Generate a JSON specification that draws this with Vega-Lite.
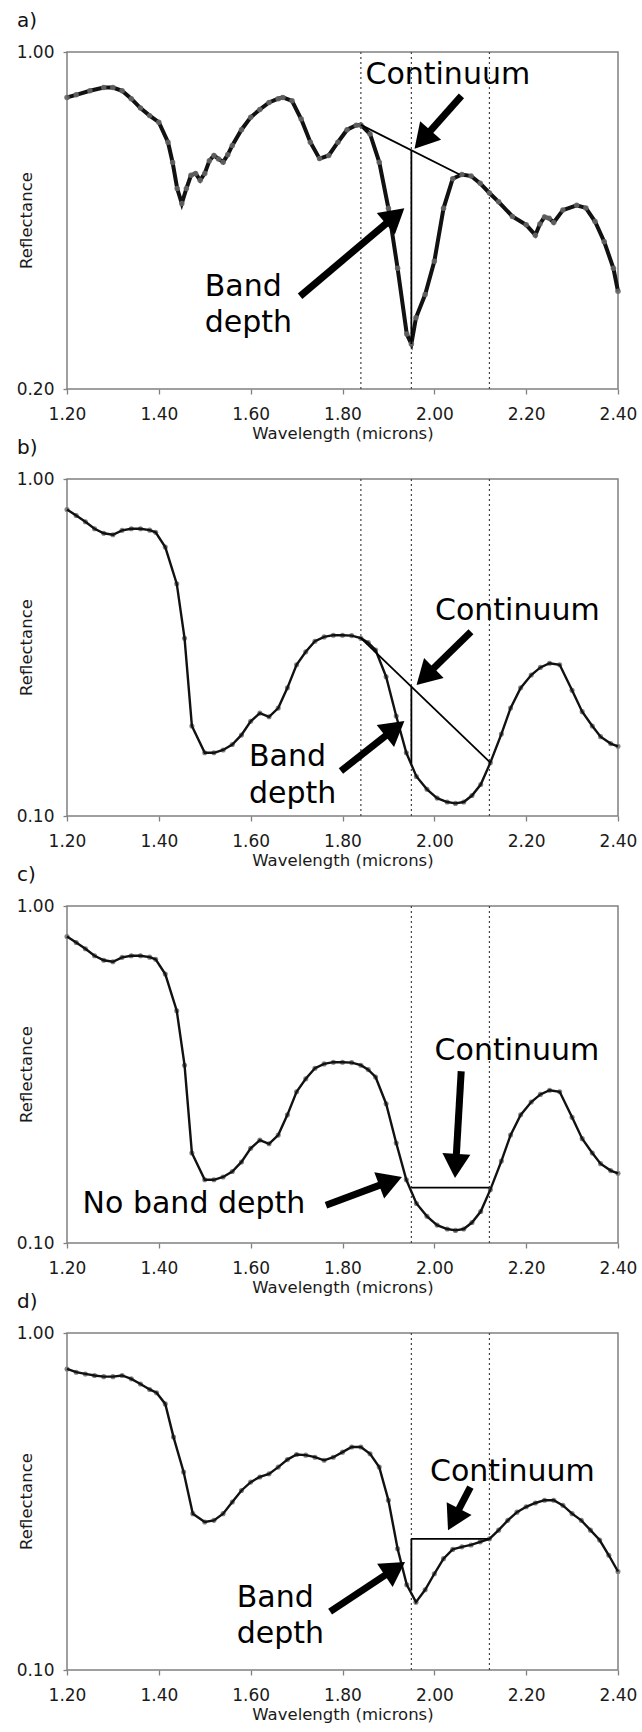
{
  "$schema": "https://vega.github.io/schema/vega-lite/v6.json",
  "padding": {"left": 15, "top": 10, "right": 5, "bottom": 5},
  "bounds": "flush",
  "spacing": 90,
  "config": {
    "font": "DejaVu Sans",
    "view": {"stroke": "#808080", "strokeWidth": 1.5},
    "axis": {"grid": false, "domain": false, "tickColor": "#808080", "tickWidth": 1.3, "labelFontSize": 17, "labelColor": "#1a1a1a", "titleFontSize": 16.5, "titleFontWeight": "normal", "titleColor": "#1a1a1a", "labelFlush": false, "labelOverlap": false},
    "axisX": {"tickSize": 5, "labelPadding": 12, "titleY": 44, "titleBaseline": "middle"},
    "axisY": {"tickSize": 4, "labelPadding": 9, "titleX": -41, "titleY": 168, "titleBaseline": "middle", "titleAngle": -90, "titleAlign": "center"},
    "title": {"anchor": "start", "frame": "group", "dx": -50, "offset": 12, "fontSize": 20, "fontWeight": "normal", "baseline": "middle", "color": "#111"}
  },
  "datasets": {
    "specA": [
      {"wl":1.20,"r":0.805},{"wl":1.22,"r":0.815},{"wl":1.25,"r":0.831},{"wl":1.28,"r":0.844},{"wl":1.30,"r":0.844},{"wl":1.32,"r":0.831},{"wl":1.34,"r":0.800},{"wl":1.36,"r":0.765},{"wl":1.38,"r":0.738},{"wl":1.40,"r":0.715},{"wl":1.42,"r":0.650},{"wl":1.43,"r":0.590},{"wl":1.44,"r":0.521},{"wl":1.45,"r":0.485},{"wl":1.46,"r":0.521},{"wl":1.47,"r":0.555},{"wl":1.48,"r":0.560},{"wl":1.49,"r":0.542},{"wl":1.50,"r":0.560},{"wl":1.51,"r":0.595},{"wl":1.52,"r":0.610},{"wl":1.53,"r":0.600},{"wl":1.54,"r":0.591},{"wl":1.55,"r":0.612},{"wl":1.56,"r":0.640},{"wl":1.58,"r":0.690},{"wl":1.60,"r":0.732},{"wl":1.62,"r":0.760},{"wl":1.64,"r":0.786},{"wl":1.66,"r":0.800},{"wl":1.67,"r":0.805},{"wl":1.69,"r":0.792},{"wl":1.71,"r":0.726},{"wl":1.73,"r":0.650},{"wl":1.75,"r":0.601},{"wl":1.77,"r":0.610},{"wl":1.79,"r":0.650},{"wl":1.81,"r":0.690},{"wl":1.83,"r":0.705},{"wl":1.84,"r":0.706},{"wl":1.86,"r":0.676},{"wl":1.88,"r":0.591},{"wl":1.90,"r":0.474},{"wl":1.92,"r":0.356},{"wl":1.94,"r":0.260},{"wl":1.95,"r":0.248},{"wl":1.96,"r":0.281},{"wl":1.98,"r":0.314},{"wl":2.00,"r":0.368},{"wl":2.02,"r":0.474},{"wl":2.04,"r":0.546},{"wl":2.06,"r":0.557},{"wl":2.08,"r":0.553},{"wl":2.10,"r":0.534},{"wl":2.12,"r":0.510},{"wl":2.14,"r":0.489},{"wl":2.17,"r":0.456},{"wl":2.20,"r":0.438},{"wl":2.22,"r":0.417},{"wl":2.23,"r":0.440},{"wl":2.24,"r":0.455},{"wl":2.25,"r":0.452},{"wl":2.26,"r":0.443},{"wl":2.28,"r":0.470},{"wl":2.31,"r":0.481},{"wl":2.33,"r":0.475},{"wl":2.35,"r":0.445},{"wl":2.37,"r":0.404},{"wl":2.39,"r":0.356},{"wl":2.40,"r":0.319}
    ],
    "specB": [
      {"wl":1.200,"r":0.812},{"wl":1.220,"r":0.779},{"wl":1.240,"r":0.747},{"wl":1.260,"r":0.712},{"wl":1.280,"r":0.690},{"wl":1.300,"r":0.683},{"wl":1.320,"r":0.704},{"wl":1.340,"r":0.712},{"wl":1.360,"r":0.712},{"wl":1.380,"r":0.705},{"wl":1.393,"r":0.695},{"wl":1.414,"r":0.628},{"wl":1.439,"r":0.489},{"wl":1.456,"r":0.337},{"wl":1.472,"r":0.185},{"wl":1.500,"r":0.154},{"wl":1.520,"r":0.154},{"wl":1.540,"r":0.157},{"wl":1.560,"r":0.163},{"wl":1.580,"r":0.174},{"wl":1.600,"r":0.191},{"wl":1.620,"r":0.202},{"wl":1.640,"r":0.197},{"wl":1.660,"r":0.209},{"wl":1.680,"r":0.240},{"wl":1.700,"r":0.281},{"wl":1.720,"r":0.307},{"wl":1.740,"r":0.330},{"wl":1.760,"r":0.340},{"wl":1.780,"r":0.344},{"wl":1.800,"r":0.344},{"wl":1.820,"r":0.343},{"wl":1.840,"r":0.337},{"wl":1.856,"r":0.327},{"wl":1.872,"r":0.311},{"wl":1.895,"r":0.259},{"wl":1.917,"r":0.198},{"wl":1.939,"r":0.154},{"wl":1.961,"r":0.131},{"wl":1.984,"r":0.120},{"wl":2.006,"r":0.113},{"wl":2.028,"r":0.110},{"wl":2.046,"r":0.109},{"wl":2.064,"r":0.110},{"wl":2.082,"r":0.115},{"wl":2.101,"r":0.124},{"wl":2.122,"r":0.144},{"wl":2.146,"r":0.175},{"wl":2.166,"r":0.209},{"wl":2.188,"r":0.240},{"wl":2.211,"r":0.262},{"wl":2.231,"r":0.276},{"wl":2.251,"r":0.284},{"wl":2.273,"r":0.281},{"wl":2.300,"r":0.236},{"wl":2.322,"r":0.204},{"wl":2.344,"r":0.185},{"wl":2.362,"r":0.172},{"wl":2.384,"r":0.164},{"wl":2.400,"r":0.161}
    ],
    "specD": [
      {"wl":1.20,"r":0.782},{"wl":1.22,"r":0.765},{"wl":1.24,"r":0.756},{"wl":1.26,"r":0.748},{"wl":1.28,"r":0.742},{"wl":1.30,"r":0.742},{"wl":1.32,"r":0.748},{"wl":1.34,"r":0.731},{"wl":1.36,"r":0.706},{"wl":1.38,"r":0.680},{"wl":1.395,"r":0.665},{"wl":1.414,"r":0.616},{"wl":1.432,"r":0.491},{"wl":1.454,"r":0.387},{"wl":1.474,"r":0.291},{"wl":1.50,"r":0.275},{"wl":1.52,"r":0.278},{"wl":1.54,"r":0.291},{"wl":1.56,"r":0.315},{"wl":1.58,"r":0.341},{"wl":1.60,"r":0.361},{"wl":1.62,"r":0.374},{"wl":1.64,"r":0.382},{"wl":1.66,"r":0.400},{"wl":1.68,"r":0.421},{"wl":1.70,"r":0.436},{"wl":1.72,"r":0.434},{"wl":1.74,"r":0.428},{"wl":1.76,"r":0.419},{"wl":1.78,"r":0.428},{"wl":1.80,"r":0.443},{"wl":1.82,"r":0.459},{"wl":1.84,"r":0.459},{"wl":1.86,"r":0.438},{"wl":1.88,"r":0.400},{"wl":1.90,"r":0.319},{"wl":1.92,"r":0.229},{"wl":1.94,"r":0.179},{"wl":1.96,"r":0.159},{"wl":1.98,"r":0.173},{"wl":2.00,"r":0.193},{"wl":2.02,"r":0.214},{"wl":2.04,"r":0.228},{"wl":2.06,"r":0.232},{"wl":2.08,"r":0.235},{"wl":2.10,"r":0.240},{"wl":2.12,"r":0.245},{"wl":2.14,"r":0.260},{"wl":2.16,"r":0.278},{"wl":2.18,"r":0.294},{"wl":2.20,"r":0.305},{"wl":2.22,"r":0.313},{"wl":2.24,"r":0.319},{"wl":2.26,"r":0.319},{"wl":2.28,"r":0.308},{"wl":2.30,"r":0.291},{"wl":2.32,"r":0.278},{"wl":2.34,"r":0.260},{"wl":2.36,"r":0.243},{"wl":2.38,"r":0.219},{"wl":2.40,"r":0.196}
    ],
    "guides": [
      {"panel":"a","wl":1.84},{"panel":"a","wl":1.95},{"panel":"a","wl":2.12},
      {"panel":"b","wl":1.84},{"panel":"b","wl":1.95},{"panel":"b","wl":2.12},
      {"panel":"c","wl":1.95},{"panel":"c","wl":2.12},
      {"panel":"d","wl":1.95},{"panel":"d","wl":2.12}
    ],
    "segs": [
      {"panel":"a","wl":1.84,"r":0.706,"wl2":2.055,"r2":0.557},
      {"panel":"a","wl":1.95,"r":0.626,"wl2":1.95,"r2":0.248},
      {"panel":"b","wl":1.84,"r":0.337,"wl2":2.122,"r2":0.144},
      {"panel":"b","wl":1.95,"r":0.242,"wl2":1.95,"r2":0.143},
      {"panel":"c","wl":1.95,"r":0.146,"wl2":2.12,"r2":0.146},
      {"panel":"d","wl":1.95,"r":0.245,"wl2":2.12,"r2":0.245},
      {"panel":"d","wl":1.95,"r":0.245,"wl2":1.95,"r2":0.172}
    ],
    "shafts": [
      {"panel":"a","wl":2.059,"r":0.811,"wl2":1.9744,"r2":0.658},
      {"panel":"a","wl":1.7076,"r":0.3115,"wl2":1.9145,"r2":0.457},
      {"panel":"b","wl":2.0798,"r":0.352,"wl2":1.9801,"r2":0.2594},
      {"panel":"b","wl":1.7966,"r":0.136,"wl2":1.9141,"r2":0.1817},
      {"panel":"c","wl":2.0585,"r":0.3235,"wl2":2.0465,"r2":0.1693},
      {"panel":"c","wl":1.764,"r":0.1295,"wl2":1.9047,"r2":0.1526},
      {"panel":"d","wl":2.0785,"r":0.349,"wl2":2.0419,"r2":0.2798},
      {"panel":"d","wl":1.773,"r":0.149,"wl2":1.9143,"r2":0.1998}
    ],
    "heads": [
      {"panel":"a","wl":1.9744,"r":0.658,"angle":221.6},
      {"panel":"a","wl":1.9145,"r":0.457,"angle":49.8},
      {"panel":"b","wl":1.9801,"r":0.2594,"angle":225.6},
      {"panel":"b","wl":1.9141,"r":0.1817,"angle":51.7},
      {"panel":"c","wl":2.0465,"r":0.1693,"angle":183.3},
      {"panel":"c","wl":1.9047,"r":0.1526,"angle":69.5},
      {"panel":"d","wl":2.0419,"r":0.2798,"angle":207.3},
      {"panel":"d","wl":1.9143,"r":0.1998,"angle":56.4}
    ],
    "labels": [
      {"panel":"a","wl":1.850,"r":0.860,"text":"Continuum"},
      {"panel":"a","wl":1.500,"r":0.3115,"text":"Band"},
      {"panel":"a","wl":1.500,"r":0.262,"text":"depth"},
      {"panel":"b","wl":2.0014,"r":0.381,"text":"Continuum"},
      {"panel":"b","wl":1.5963,"r":0.1405,"text":"Band"},
      {"panel":"b","wl":1.5963,"r":0.1095,"text":"depth"},
      {"panel":"c","wl":2.0006,"r":0.350,"text":"Continuum"},
      {"panel":"c","wl":1.234,"r":0.1224,"text":"No band depth"},
      {"panel":"d","wl":1.9905,"r":0.365,"text":"Continuum"},
      {"panel":"d","wl":1.5697,"r":0.154,"text":"Band"},
      {"panel":"d","wl":1.5697,"r":0.120,"text":"depth"}
    ]
  },
  "vconcat": [
    {
      "title": "a)",
      "width": 551, "height": 337,
      "layer": [
        {"data": {"name": "guides"}, "transform": [{"filter": "datum.panel == 'a'"}], "mark": {"type": "rule", "color": "#444", "strokeWidth": 1.2, "strokeDash": [2, 3]}, "encoding": {"x": {"field": "wl", "type": "quantitative", "scale": {"domain": [1.2, 2.4], "nice": false, "zero": false}}}},
        {"data": {"name": "specA"}, "mark": {"type": "line", "color": "#111", "strokeWidth": 4}, "encoding": {
          "x": {"field": "wl", "type": "quantitative", "scale": {"domain": [1.2, 2.4], "nice": false, "zero": false}, "axis": {"values": [1.2, 1.4, 1.6, 1.8, 2.0, 2.2, 2.4], "format": ".2f", "title": "Wavelength (microns)"}},
          "y": {"field": "r", "type": "quantitative", "scale": {"type": "log", "domain": [0.2, 1], "nice": false}, "axis": {"values": [0.2, 1], "format": ".2f", "title": "Reflectance"}}}},
        {"data": {"name": "specA"}, "mark": {"type": "point", "shape": "circle", "filled": true, "color": "#666", "size": 30, "opacity": 0.9}, "encoding": {
          "x": {"field": "wl", "type": "quantitative", "scale": {"domain": [1.2, 2.4], "nice": false, "zero": false}},
          "y": {"field": "r", "type": "quantitative", "scale": {"type": "log", "domain": [0.2, 1], "nice": false}}}},
        {"data": {"name": "segs"}, "transform": [{"filter": "datum.panel == 'a'"}], "mark": {"type": "rule", "color": "#000", "strokeWidth": 1.8}, "encoding": {
          "x": {"field": "wl", "type": "quantitative", "scale": {"domain": [1.2, 2.4], "nice": false, "zero": false}}, "x2": {"field": "wl2"},
          "y": {"field": "r", "type": "quantitative", "scale": {"type": "log", "domain": [0.2, 1], "nice": false}}, "y2": {"field": "r2"}}},
        {"data": {"name": "shafts"}, "transform": [{"filter": "datum.panel == 'a'"}], "mark": {"type": "rule", "color": "#000", "strokeWidth": 7, "strokeCap": "butt"}, "encoding": {
          "x": {"field": "wl", "type": "quantitative", "scale": {"domain": [1.2, 2.4], "nice": false, "zero": false}}, "x2": {"field": "wl2"},
          "y": {"field": "r", "type": "quantitative", "scale": {"type": "log", "domain": [0.2, 1], "nice": false}}, "y2": {"field": "r2"}}},
        {"data": {"name": "heads"}, "transform": [{"filter": "datum.panel == 'a'"}], "mark": {"type": "point", "shape": "triangle-up", "filled": true, "color": "#000", "size": 784, "opacity": 1}, "encoding": {
          "x": {"field": "wl", "type": "quantitative", "scale": {"domain": [1.2, 2.4], "nice": false, "zero": false}},
          "y": {"field": "r", "type": "quantitative", "scale": {"type": "log", "domain": [0.2, 1], "nice": false}},
          "angle": {"field": "angle", "type": "quantitative", "scale": null}}},
        {"data": {"name": "labels"}, "transform": [{"filter": "datum.panel == 'a'"}], "mark": {"type": "text", "fontSize": 30, "align": "left", "baseline": "alphabetic", "color": "#000"}, "encoding": {
          "x": {"field": "wl", "type": "quantitative", "scale": {"domain": [1.2, 2.4], "nice": false, "zero": false}},
          "y": {"field": "r", "type": "quantitative", "scale": {"type": "log", "domain": [0.2, 1], "nice": false}},
          "text": {"field": "text"}}}
      ]
    },
    {
      "title": "b)",
      "width": 551, "height": 337,
      "layer": [
        {"data": {"name": "guides"}, "transform": [{"filter": "datum.panel == 'b'"}], "mark": {"type": "rule", "color": "#444", "strokeWidth": 1.2, "strokeDash": [2, 3]}, "encoding": {"x": {"field": "wl", "type": "quantitative", "scale": {"domain": [1.2, 2.4], "nice": false, "zero": false}}}},
        {"data": {"name": "specB"}, "mark": {"type": "point", "shape": "circle", "filled": true, "color": "#777", "size": 26, "opacity": 0.9}, "encoding": {
          "x": {"field": "wl", "type": "quantitative", "scale": {"domain": [1.2, 2.4], "nice": false, "zero": false}},
          "y": {"field": "r", "type": "quantitative", "scale": {"type": "log", "domain": [0.1, 1], "nice": false}}}},
        {"data": {"name": "specB"}, "mark": {"type": "line", "color": "#111", "strokeWidth": 2.4}, "encoding": {
          "x": {"field": "wl", "type": "quantitative", "scale": {"domain": [1.2, 2.4], "nice": false, "zero": false}, "axis": {"values": [1.2, 1.4, 1.6, 1.8, 2.0, 2.2, 2.4], "format": ".2f", "title": "Wavelength (microns)"}},
          "y": {"field": "r", "type": "quantitative", "scale": {"type": "log", "domain": [0.1, 1], "nice": false}, "axis": {"values": [0.1, 1], "format": ".2f", "title": "Reflectance"}}}},
        {"data": {"name": "segs"}, "transform": [{"filter": "datum.panel == 'b'"}], "mark": {"type": "rule", "color": "#000", "strokeWidth": 1.8}, "encoding": {
          "x": {"field": "wl", "type": "quantitative", "scale": {"domain": [1.2, 2.4], "nice": false, "zero": false}}, "x2": {"field": "wl2"},
          "y": {"field": "r", "type": "quantitative", "scale": {"type": "log", "domain": [0.1, 1], "nice": false}}, "y2": {"field": "r2"}}},
        {"data": {"name": "shafts"}, "transform": [{"filter": "datum.panel == 'b'"}], "mark": {"type": "rule", "color": "#000", "strokeWidth": 7, "strokeCap": "butt"}, "encoding": {
          "x": {"field": "wl", "type": "quantitative", "scale": {"domain": [1.2, 2.4], "nice": false, "zero": false}}, "x2": {"field": "wl2"},
          "y": {"field": "r", "type": "quantitative", "scale": {"type": "log", "domain": [0.1, 1], "nice": false}}, "y2": {"field": "r2"}}},
        {"data": {"name": "heads"}, "transform": [{"filter": "datum.panel == 'b'"}], "mark": {"type": "point", "shape": "triangle-up", "filled": true, "color": "#000", "size": 784, "opacity": 1}, "encoding": {
          "x": {"field": "wl", "type": "quantitative", "scale": {"domain": [1.2, 2.4], "nice": false, "zero": false}},
          "y": {"field": "r", "type": "quantitative", "scale": {"type": "log", "domain": [0.1, 1], "nice": false}},
          "angle": {"field": "angle", "type": "quantitative", "scale": null}}},
        {"data": {"name": "labels"}, "transform": [{"filter": "datum.panel == 'b'"}], "mark": {"type": "text", "fontSize": 30, "align": "left", "baseline": "alphabetic", "color": "#000"}, "encoding": {
          "x": {"field": "wl", "type": "quantitative", "scale": {"domain": [1.2, 2.4], "nice": false, "zero": false}},
          "y": {"field": "r", "type": "quantitative", "scale": {"type": "log", "domain": [0.1, 1], "nice": false}},
          "text": {"field": "text"}}}
      ]
    },
    {
      "title": "c)",
      "width": 551, "height": 337,
      "layer": [
        {"data": {"name": "guides"}, "transform": [{"filter": "datum.panel == 'c'"}], "mark": {"type": "rule", "color": "#444", "strokeWidth": 1.2, "strokeDash": [2, 3]}, "encoding": {"x": {"field": "wl", "type": "quantitative", "scale": {"domain": [1.2, 2.4], "nice": false, "zero": false}}}},
        {"data": {"name": "specB"}, "mark": {"type": "point", "shape": "circle", "filled": true, "color": "#777", "size": 26, "opacity": 0.9}, "encoding": {
          "x": {"field": "wl", "type": "quantitative", "scale": {"domain": [1.2, 2.4], "nice": false, "zero": false}},
          "y": {"field": "r", "type": "quantitative", "scale": {"type": "log", "domain": [0.1, 1], "nice": false}}}},
        {"data": {"name": "specB"}, "mark": {"type": "line", "color": "#111", "strokeWidth": 2.4}, "encoding": {
          "x": {"field": "wl", "type": "quantitative", "scale": {"domain": [1.2, 2.4], "nice": false, "zero": false}, "axis": {"values": [1.2, 1.4, 1.6, 1.8, 2.0, 2.2, 2.4], "format": ".2f", "title": "Wavelength (microns)"}},
          "y": {"field": "r", "type": "quantitative", "scale": {"type": "log", "domain": [0.1, 1], "nice": false}, "axis": {"values": [0.1, 1], "format": ".2f", "title": "Reflectance"}}}},
        {"data": {"name": "segs"}, "transform": [{"filter": "datum.panel == 'c'"}], "mark": {"type": "rule", "color": "#000", "strokeWidth": 1.8}, "encoding": {
          "x": {"field": "wl", "type": "quantitative", "scale": {"domain": [1.2, 2.4], "nice": false, "zero": false}}, "x2": {"field": "wl2"},
          "y": {"field": "r", "type": "quantitative", "scale": {"type": "log", "domain": [0.1, 1], "nice": false}}, "y2": {"field": "r2"}}},
        {"data": {"name": "shafts"}, "transform": [{"filter": "datum.panel == 'c'"}], "mark": {"type": "rule", "color": "#000", "strokeWidth": 7, "strokeCap": "butt"}, "encoding": {
          "x": {"field": "wl", "type": "quantitative", "scale": {"domain": [1.2, 2.4], "nice": false, "zero": false}}, "x2": {"field": "wl2"},
          "y": {"field": "r", "type": "quantitative", "scale": {"type": "log", "domain": [0.1, 1], "nice": false}}, "y2": {"field": "r2"}}},
        {"data": {"name": "heads"}, "transform": [{"filter": "datum.panel == 'c'"}], "mark": {"type": "point", "shape": "triangle-up", "filled": true, "color": "#000", "size": 784, "opacity": 1}, "encoding": {
          "x": {"field": "wl", "type": "quantitative", "scale": {"domain": [1.2, 2.4], "nice": false, "zero": false}},
          "y": {"field": "r", "type": "quantitative", "scale": {"type": "log", "domain": [0.1, 1], "nice": false}},
          "angle": {"field": "angle", "type": "quantitative", "scale": null}}},
        {"data": {"name": "labels"}, "transform": [{"filter": "datum.panel == 'c'"}], "mark": {"type": "text", "fontSize": 30, "align": "left", "baseline": "alphabetic", "color": "#000"}, "encoding": {
          "x": {"field": "wl", "type": "quantitative", "scale": {"domain": [1.2, 2.4], "nice": false, "zero": false}},
          "y": {"field": "r", "type": "quantitative", "scale": {"type": "log", "domain": [0.1, 1], "nice": false}},
          "text": {"field": "text"}}}
      ]
    },
    {
      "title": "d)",
      "width": 551, "height": 337,
      "layer": [
        {"data": {"name": "guides"}, "transform": [{"filter": "datum.panel == 'd'"}], "mark": {"type": "rule", "color": "#444", "strokeWidth": 1.2, "strokeDash": [2, 3]}, "encoding": {"x": {"field": "wl", "type": "quantitative", "scale": {"domain": [1.2, 2.4], "nice": false, "zero": false}}}},
        {"data": {"name": "specD"}, "mark": {"type": "point", "shape": "circle", "filled": true, "color": "#777", "size": 26, "opacity": 0.9}, "encoding": {
          "x": {"field": "wl", "type": "quantitative", "scale": {"domain": [1.2, 2.4], "nice": false, "zero": false}},
          "y": {"field": "r", "type": "quantitative", "scale": {"type": "log", "domain": [0.1, 1], "nice": false}}}},
        {"data": {"name": "specD"}, "mark": {"type": "line", "color": "#111", "strokeWidth": 2.4}, "encoding": {
          "x": {"field": "wl", "type": "quantitative", "scale": {"domain": [1.2, 2.4], "nice": false, "zero": false}, "axis": {"values": [1.2, 1.4, 1.6, 1.8, 2.0, 2.2, 2.4], "format": ".2f", "title": "Wavelength (microns)"}},
          "y": {"field": "r", "type": "quantitative", "scale": {"type": "log", "domain": [0.1, 1], "nice": false}, "axis": {"values": [0.1, 1], "format": ".2f", "title": "Reflectance"}}}},
        {"data": {"name": "segs"}, "transform": [{"filter": "datum.panel == 'd'"}], "mark": {"type": "rule", "color": "#000", "strokeWidth": 1.8}, "encoding": {
          "x": {"field": "wl", "type": "quantitative", "scale": {"domain": [1.2, 2.4], "nice": false, "zero": false}}, "x2": {"field": "wl2"},
          "y": {"field": "r", "type": "quantitative", "scale": {"type": "log", "domain": [0.1, 1], "nice": false}}, "y2": {"field": "r2"}}},
        {"data": {"name": "shafts"}, "transform": [{"filter": "datum.panel == 'd'"}], "mark": {"type": "rule", "color": "#000", "strokeWidth": 7, "strokeCap": "butt"}, "encoding": {
          "x": {"field": "wl", "type": "quantitative", "scale": {"domain": [1.2, 2.4], "nice": false, "zero": false}}, "x2": {"field": "wl2"},
          "y": {"field": "r", "type": "quantitative", "scale": {"type": "log", "domain": [0.1, 1], "nice": false}}, "y2": {"field": "r2"}}},
        {"data": {"name": "heads"}, "transform": [{"filter": "datum.panel == 'd'"}], "mark": {"type": "point", "shape": "triangle-up", "filled": true, "color": "#000", "size": 784, "opacity": 1}, "encoding": {
          "x": {"field": "wl", "type": "quantitative", "scale": {"domain": [1.2, 2.4], "nice": false, "zero": false}},
          "y": {"field": "r", "type": "quantitative", "scale": {"type": "log", "domain": [0.1, 1], "nice": false}},
          "angle": {"field": "angle", "type": "quantitative", "scale": null}}},
        {"data": {"name": "labels"}, "transform": [{"filter": "datum.panel == 'd'"}], "mark": {"type": "text", "fontSize": 30, "align": "left", "baseline": "alphabetic", "color": "#000"}, "encoding": {
          "x": {"field": "wl", "type": "quantitative", "scale": {"domain": [1.2, 2.4], "nice": false, "zero": false}},
          "y": {"field": "r", "type": "quantitative", "scale": {"type": "log", "domain": [0.1, 1], "nice": false}},
          "text": {"field": "text"}}}
      ]
    }
  ]
}
